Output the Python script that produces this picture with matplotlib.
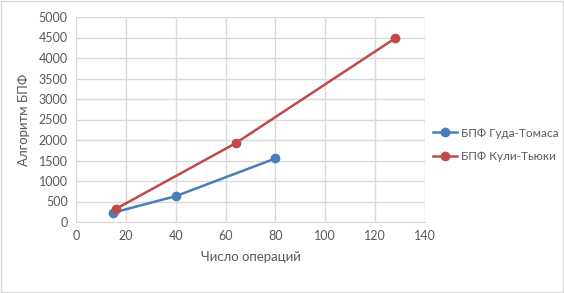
import matplotlib
matplotlib.use("Agg")
import matplotlib.pyplot as plt

gt_x = [15, 40, 80]
gt_y = [230, 630, 1550]
ct_x = [16, 64, 128]
ct_y = [320, 1920, 4480]
xticks = [0, 20, 40, 60, 80, 100, 120, 140]
yticks = [0, 500, 1000, 1500, 2000, 2500, 3000, 3500, 4000, 4500, 5000]
labels = ["БПФ Гуда-Томаса", "БПФ Кули-Тьюки"]

plt.rcParams['font.family'] = ['Lato', 'DejaVu Sans']
txt = '#595959'

fig = plt.figure(figsize=(5.64, 2.93), dpi=100)
ax = fig.add_axes([76/564, 1-222/293, (425-76)/564, (222-17)/293])
ax.plot(gt_x, gt_y, color='#4a7ebb', lw=1.8, marker='o', ms=6, label=labels[0])
ax.plot(ct_x, ct_y, color='#be4b48', lw=1.8, marker='o', ms=6, label=labels[1])
ax.set_xlim(0, 140)
ax.set_ylim(0, 5000)
ax.set_xticks(xticks)
ax.set_yticks(yticks)
ax.grid(True, color='#d9d9d9', lw=1)
ax.set_axisbelow(True)
for s in ['top', 'right', 'left']:
    ax.spines[s].set_visible(False)
ax.spines['bottom'].set_color('#d9d9d9')
ax.tick_params(length=0, colors=txt, labelsize=9, pad=6)
ax.set_xlabel("Число операций", color=txt, fontsize=9.5, labelpad=6)
ax.set_ylabel("Алгоритм БПФ", color=txt, fontsize=9.5, labelpad=6)
leg = fig.legend(handles=ax.get_lines(), loc='center left', bbox_to_anchor=(433/564, 1-145/293),
                 frameon=False, fontsize=8.5, labelspacing=1.1, handlelength=2.0,
                 handletextpad=0.4, borderaxespad=0, borderpad=0)
for t in leg.get_texts():
    t.set_color(txt)
fig.patches.append(plt.Rectangle((0.001, 0.002), 0.997, 0.995, transform=fig.transFigure,
                                 fill=False, edgecolor='#d9d9d9', lw=1))
fig.savefig("out.png", dpi=100)
